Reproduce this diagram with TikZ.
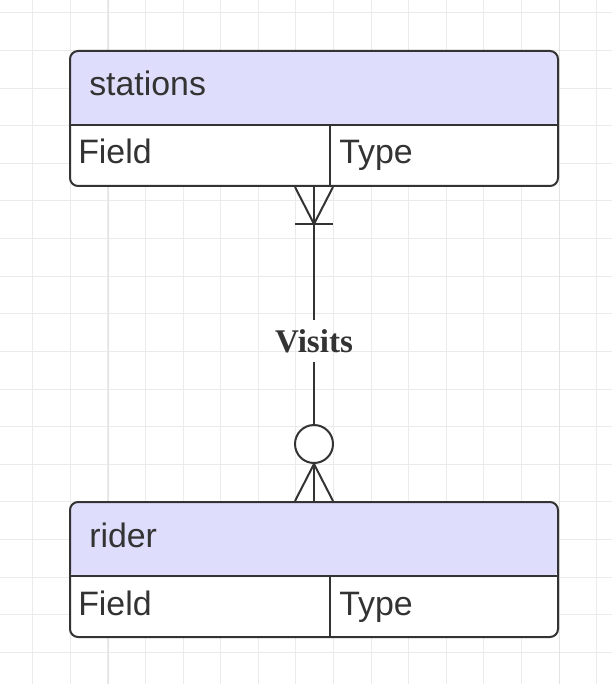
\documentclass[tikz,border=0pt]{standalone}
\usepackage{fontspec}
\setmainfont{Liberation Sans}
\newfontfamily\relfont{Liberation Serif}
\usepackage{tikz}
\usetikzlibrary{arrows, positioning, calc}
\definecolor{linecol}{HTML}{333333}
\definecolor{hdrcol}{HTML}{DEDEFC}
\definecolor{gridcol}{HTML}{EBEBEB}
\definecolor{gridmaj}{HTML}{E3E3E3}

\begin{document}
\begin{tikzpicture}[x=0.75pt, y=-0.75pt,
	entity/.style={draw=linecol, line width=1.5pt, rounded corners=6pt, fill=white, minimum width=366pt, minimum height=101.25pt, inner sep=0pt,
		path picture={\fill[hdrcol] (path picture bounding box.north west) rectangle ($(path picture bounding box.north east)+(0,75)$);}},
	lbl/.style={inner sep=0pt, text=linecol, font=\fontsize{25.4pt}{28pt}\selectfont, anchor=base west},
	rel/.style={draw=linecol, line width=1.5pt},
	gridline/.style={draw=gridcol, line width=0.75pt}]

	\useasboundingbox (0,0) rectangle (612,684);

	\foreach \k in {0,...,15}
		\draw[gridline] (32.7+37.6*\k,0) -- (32.7+37.6*\k,684);
	\foreach \k in {0,...,17}
		\draw[gridline] (0,13+37.6*\k) -- (612,13+37.6*\k);
	\draw[gridline, draw=gridmaj] (108,0) -- (108,684);
	\draw[gridline, draw=gridmaj] (559,0) -- (559,684);

	\node [entity] (stations) at (314,118.5) {};
	\node [entity] (rider) at (314,569.5) {};

	\draw[rel] ($(stations.north west)+(0,75)$) -- ($(stations.north east)+(0,75)$);
	\draw[rel] ($(stations.north)+(16,75)$) -- ($(stations.south)+(16,0)$);
	\draw[rel] ($(rider.north west)+(0,75)$) -- ($(rider.north east)+(0,75)$);
	\draw[rel] ($(rider.north)+(16,75)$) -- ($(rider.south)+(16,0)$);

	\node [lbl] (stations-t) at (89,96) {stations};
	\node [lbl] (stations-f) at (78,164) {Field};
	\node [lbl] (stations-y) at (339,164) {Type};

	\node [lbl] (rider-t) at (89,547) {rider};
	\node [lbl] (rider-f) at (78,615) {Field};
	\node [lbl] (rider-y) at (339,615) {Type};

	\node [inner xsep=2pt, inner ysep=7pt, text=linecol, font=\relfont\bfseries\fontsize{24.8pt}{27pt}\selectfont] (visits) at (314,341) {Visits};
	\node [circle, draw=linecol, line width=1.5pt, minimum size=28.5pt, inner sep=0pt] (zero) at (314,444) {};

	\draw[rel] (stations.south) -- (visits) -- (zero);
	\draw[rel] (zero) -- (rider.north);

	\draw[rel] ($(stations.south)+(-19,0)$) -- ($(stations.south)+(0,37)$) -- ($(stations.south)+(19,0)$);
	\draw[rel] ($(stations.south)+(-19,37)$) -- ($(stations.south)+(19,37)$);

	\draw[rel] ($(rider.north)+(-19,0)$) -- (zero.south) -- ($(rider.north)+(19,0)$);

\end{tikzpicture}
\end{document}
